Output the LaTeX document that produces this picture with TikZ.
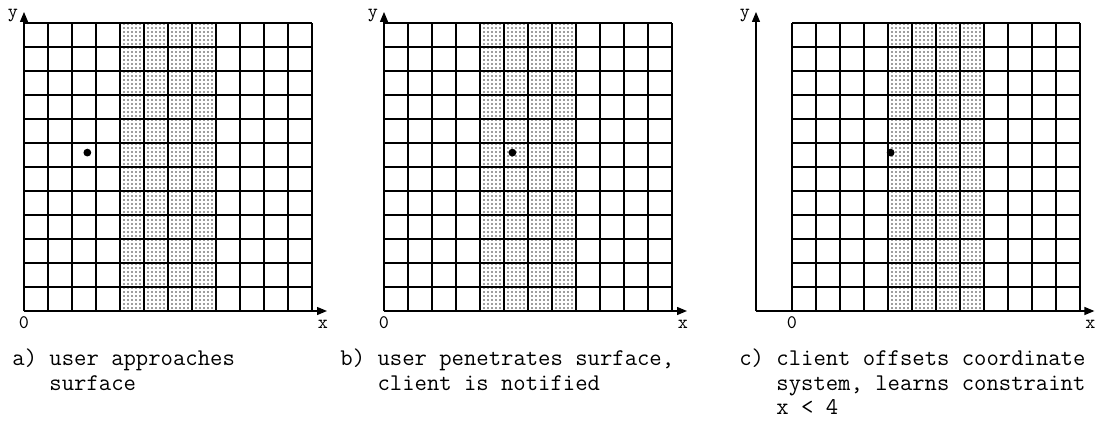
\documentclass[tikz,border=0pt]{standalone}
\usepackage{fontspec}
\usepackage{xcolor}
\usetikzlibrary{arrows.meta,patterns.meta}
\definecolor{inkblack}{HTML}{000000}
\definecolor{dotgray}{HTML}{3C3C3C}
\tikzset{
  gridline/.style={line width=0.95pt, draw=inkblack},
  surface/.style={pattern={Dots[distance=2pt, radius=0.42pt]}, pattern color=dotgray},
  axisarrow/.style={-{Triangle[length=5pt, width=4pt]}, line width=0.6pt, color=inkblack},
  axislabel/.style={font=\ttfamily\fontsize{9.6}{11}\selectfont, inner sep=0pt},
  captext/.style={font=\ttfamily\fontsize{12}{12.25}\selectfont, align=left,
    inner sep=0pt, anchor=base west},
  userdot/.style={circle, fill=inkblack, inner sep=0pt, minimum size=3.9pt},
}

\begin{document}
\begin{tikzpicture}[x=12pt, y=12pt]
  \useasboundingbox (0,-4.542) rectangle (45.792,12.958);

  % axis origin / grid origin / user x / x-arrow tip / panel
  \foreach \ax/\gx/\ux/\tip/\nm in {1/1/2.64/13.625/a, 16/16/5.35/28.625/b, 31.5/33/4.11/45.6/c} {
    \coordinate (o\nm) at (\ax,0);
    \coordinate (xt\nm) at (\tip,0);
    \coordinate (yt\nm) at (\ax,12.46);
    \fill[surface] (\gx+4,0) rectangle (\gx+8,12);
    \draw[gridline, step=1] (\gx,0) grid (\gx+12,12);
    \draw[axisarrow] (o\nm) -- (xt\nm);
    \draw[axisarrow] (o\nm) -- (yt\nm);
    \node[axislabel, anchor=base] (zero\nm) at (\gx,-0.73) {0};
    \node[axislabel, anchor=base] (xlab\nm) at (\tip-0.17,-0.73) {x};
    \node[axislabel] (ylab\nm) at (\ax-0.46,12.33) {y};
    \node[userdot] (user\nm) at (\gx+\ux,6.6) {};
  }

  % captions, placed by the baseline of their last line
  \node[captext] (capa) at (0.5,-3.31) {a) user approaches\\\hphantom{a) }surface};
  \node[captext] (capb) at (14.17,-3.31) {b) user penetrates surface,\\\hphantom{b) }client is notified};
  \node[captext] (capc) at (30.79,-4.33) {c) client offsets coordinate\\\hphantom{c) }system, learns constraint\\\hphantom{c) }x < 4};
\end{tikzpicture}
\end{document}
